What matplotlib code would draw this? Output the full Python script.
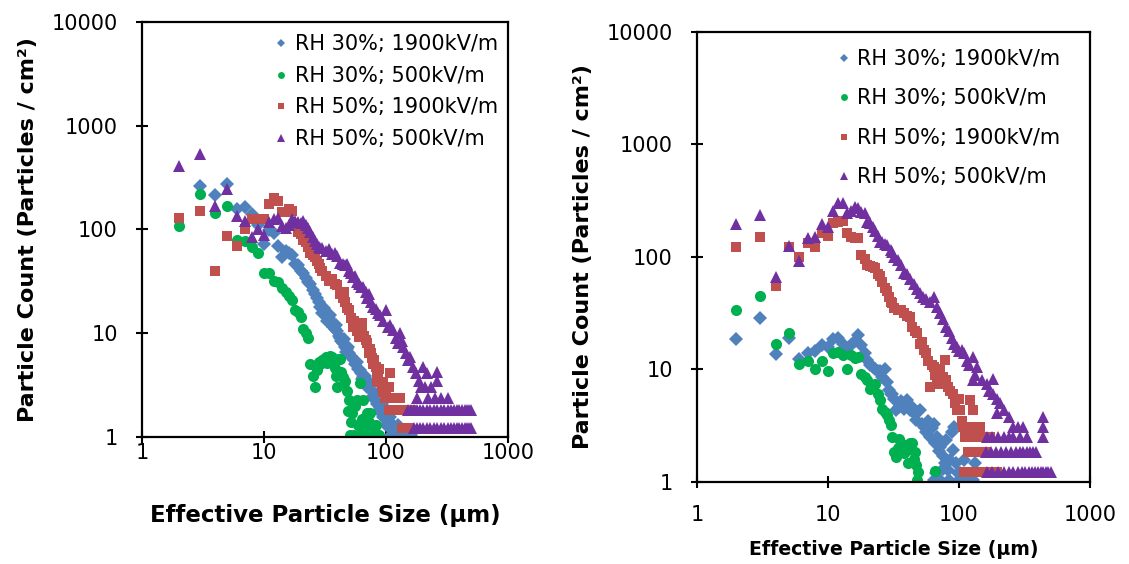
import matplotlib
matplotlib.use("Agg")
import matplotlib.pyplot as plt
from matplotlib.ticker import FixedLocator, FixedFormatter, NullLocator

# ---------------- data ----------------
series_labels = ["RH 30%; 1900kV/m", "RH 30%; 500kV/m", "RH 50%; 1900kV/m", "RH 50%; 500kV/m"]
tick_values = [1, 10, 100, 1000, 10000]
tick_labels = ["1", "10", "100", "1000", "10000"]

# ----- Left panel -----
L_blue_x = [3, 4, 5, 6, 7, 8, 9, 10, 11, 12, 13, 14, 15, 16, 17, 18, 19, 20, 21, 22, 23, 24, 25, 26, 27, 28, 29, 30,
            31, 32, 33, 34, 35, 36, 37, 38, 39, 40, 41, 42, 43, 44, 45, 46, 47, 48, 49, 50, 52, 53, 55, 56, 58, 59,
            61, 62, 64, 65, 67, 68, 70, 72, 74, 76, 78, 80, 82, 85, 87, 90, 92, 95, 97, 100, 102, 105, 108, 110,
            115, 120, 125, 130, 140, 150, 160]
L_blue_y = [265, 213, 276, 159, 163, 142, 110, 73, 98, 92, 70, 54, 62, 60, 57, 47, 45, 40, 38, 34, 31, 30, 26, 24, 22,
            20, 18, 15.6, 17.5, 14.5, 13, 14, 15, 12.5, 11.5, 11, 12, 10.5, 9.5, 9, 8.5, 8, 8.8, 7.3, 6.6, 7, 7.4,
            6.4, 6, 5.8, 5.5, 5.1, 5.3, 4.5, 4.4, 4.1, 3.6, 3.8, 3.9, 3.4, 3.0, 3.1, 3.3, 2.8, 2.5, 2.3, 2.6, 2.1,
            1.8, 1.9, 2.1, 1.55, 1.8, 1.3, 1.5, 1.25, 1.55, 1.05, 1.3, 1.05, 1.3, 1.05, 1.05, 1.05, 1.05]

L_green_x = [2, 3, 4, 5, 6, 7, 8, 9, 10, 11, 12, 13, 14, 15, 16, 17, 18, 19, 20, 21, 22, 23, 24, 25, 26, 27, 28, 29,
             30, 31, 32, 33, 34, 35, 36, 37, 38, 39, 40, 41, 42, 43, 44, 45, 46, 48, 49, 50, 51, 52, 53, 55, 56, 58,
             59, 60, 61, 63, 65, 66, 68, 70, 72, 74, 75, 77, 78, 80, 82, 85, 88]
L_green_y = [109, 220, 143, 170, 80, 78, 68, 60, 38, 38, 32, 31, 27, 25, 23, 20.8, 16.6, 16, 14.3, 11, 10, 9, 5.1,
             3.9, 3.0, 4.4, 5.3, 5.0, 5.5, 5.7, 5.9, 5.2, 5.8, 6.0, 5.9, 5.6, 4.6, 3.9, 3.0, 5.7, 5.7, 4.2, 3.8, 3.3,
             3.5, 2.8, 1.8, 2.27, 1.05, 1.4, 1.7, 1.05, 2.0, 2.27, 1.3, 1.05, 3.3, 1.5, 2.27, 1.25, 1.05, 1.7, 1.4,
             1.7, 1.05, 1.25, 1.25, 1.05, 1.3, 1.05, 1.05]

L_red_x = [2, 3, 4, 5, 6, 7, 8, 9, 10, 11, 12, 13, 14, 15, 16, 17, 18, 19, 20, 21, 22, 23, 24, 25, 26, 27, 28, 29, 30,
           32, 34, 36, 38, 40, 42, 44, 46, 48, 50, 52, 54, 56, 58, 60, 62, 64, 66, 68, 70, 72, 74, 76, 78, 80, 82,
           84, 86, 88, 90, 92, 95, 98, 100, 103, 106, 108, 110, 115, 120, 125, 130, 135, 140, 145, 150, 155, 160,
           45, 55, 63, 75, 85, 95, 105]
L_red_y = [130, 150, 39.5, 86, 70, 100, 125, 127, 125, 178, 200, 190, 146, 146, 156, 150, 110, 95, 91, 80, 76, 68, 60,
           57, 54, 50, 46, 43, 40, 36, 32, 33, 30, 29, 24, 22, 20, 17.5, 16.6, 14, 11.4, 12, 10.5, 9.1, 10, 12.5,
           9.5, 8.6, 8.0, 6.4, 7.0, 5.8, 5.0, 5.5, 4.7, 4.2, 3.8, 4.5, 3.4, 3.0, 3.4, 2.4, 2.65, 2.4, 3.0, 4.1, 2.4,
           1.83, 2.4, 1.83, 2.4, 1.22, 1.83, 1.22, 1.83, 1.22, 1.83,
           25, 13, 11, 6.5, 3.5, 2.7, 1.83]

L_purple_x = [2, 3, 4, 5, 6, 7, 8, 9, 10, 11, 12, 13, 14, 15, 16, 17, 18, 19, 20, 21, 22, 23, 24, 25, 26, 27, 28, 29,
              30, 32, 34, 36, 38, 40, 42, 44, 46, 48, 50, 52, 54, 56, 58, 60, 62, 65, 68, 70, 72, 75, 78, 82, 86, 90,
              95, 100, 103, 108, 114, 120, 125, 130, 135, 138, 145, 150, 157, 166, 175, 178, 185, 192, 201, 210, 216,
              220, 235, 250, 260, 262, 280, 322,
              150, 160, 170, 180, 190, 200, 215, 230, 245, 260, 280, 300, 320, 340, 360, 380, 400, 420, 440, 460, 480,
              500,
              170, 180, 190, 200, 215, 230, 245, 260, 280, 300, 320, 340, 360, 380, 400, 420, 440, 460, 480, 500]
L_purple_y = [412, 537, 170, 247, 136, 122, 84, 102, 88, 117, 125, 130, 109, 104, 110, 127, 120, 117, 115, 122, 110,
              104, 95, 84, 78, 73, 68, 66, 67, 62, 65, 58, 60, 55, 48, 47, 45, 47, 40, 38, 34.5, 36, 31, 30, 28, 28,
              25, 22, 24, 20, 17.8, 17, 15.6, 15, 13, 16.6, 11.4, 12, 10.7, 9, 8, 10, 8.5, 7.3, 6.5, 5.5, 5.9, 4.7,
              4.1, 2.4, 3.5, 3.0, 4.7, 3.0, 4.1, 2.4, 3.0, 2.4, 4.2, 3.5, 2.4, 2.4,
              1.83, 1.83, 1.83, 1.83, 1.83, 1.83, 1.83, 1.83, 1.83, 1.83, 1.83, 1.83, 1.83, 1.83, 1.83, 1.83, 1.83,
              1.83, 1.83, 1.83, 1.83, 1.83,
              1.22, 1.22, 1.22, 1.22, 1.22, 1.22, 1.22, 1.22, 1.22, 1.22, 1.22, 1.22, 1.22, 1.22, 1.22, 1.22, 1.22,
              1.22, 1.22, 1.22]

# ----- Right panel -----
R_blue_x = [2, 3, 4, 5, 6, 7, 8, 9, 10, 11, 12, 13, 14, 15, 16, 17, 18, 19, 20, 21, 22, 23, 24, 25, 26, 27, 28, 29,
            30, 31, 32, 33, 35, 36, 38, 40, 42, 44, 46, 47, 48, 50, 52, 54, 56, 58, 60, 62, 64, 66, 68, 70, 72, 75,
            78, 80, 82, 85, 88, 90, 92, 95, 98, 100, 102, 106, 110, 114, 120, 128, 133, 64, 67, 72, 76, 84]
R_blue_y = [18.5, 28.8, 13.7, 19.2, 12.5, 14.1, 14.5, 16.5, 16, 18.5, 19, 17, 15.4, 16.5, 18, 20.3, 16.5, 14, 12.1,
            11, 10.6, 10, 9.6, 9.6, 8.5, 10, 7.8, 6.6, 6.1, 6.1, 5.5, 4.4, 4.67, 5.2, 4.5, 5.35, 4.4, 4.67, 4.0,
            3.55, 4.2, 4.4, 3.3, 3.1, 2.8, 3.5, 2.5, 3.0, 3.3, 2.2, 2.53, 1.9, 2.06, 1.7, 1.47, 2.36, 1.28, 1.57,
            2.8, 1.93, 3.1, 1.47, 1.2, 1.04, 1.2, 1.04, 1.57, 1.04, 1.04, 1.04, 1.47, 1.04, 1.2, 1.04, 1.3, 1.04]

R_green_x = [2, 3, 4, 5, 6, 7, 8, 9, 10, 11, 12, 13, 14, 15, 16, 17, 18, 19, 20, 21, 22, 23, 24, 25, 26, 27, 28, 29,
             30, 31, 32, 33, 34, 35, 36, 38, 40, 41, 42, 44, 45, 46, 47, 48, 49, 66]
R_green_y = [33.8, 45, 16.9, 21.3, 11.1, 11.8, 10, 12, 9.6, 13.9, 14.4, 13.4, 10, 13.5, 12.6, 13, 9.2, 8.5, 8.05, 6.7,
             7.0, 7.5, 6.0, 5.35, 4.5, 4.2, 3.94, 3.55, 3.2, 2.53, 1.86, 1.68, 2.0, 2.4, 2.2, 1.8, 1.93, 1.47, 2.2,
             2.2, 1.6, 1.86, 1.42, 1.04, 1.23, 1.26]

R_red_x = [2, 3, 4, 5, 6, 7, 8, 9, 10, 11, 12, 13, 14, 15, 16, 17, 18, 19, 20, 21, 22, 23, 24, 25, 26, 27, 28, 29,
           30, 31, 32, 34, 36, 38, 40, 42, 44, 46, 48, 50, 52, 54, 56, 58, 60, 62, 64, 66, 68, 70, 72, 75, 78, 80,
           83, 86, 90, 93, 96, 100, 102, 105, 108, 112, 115, 118, 121, 125, 128, 132, 136, 140, 144, 150, 155, 160,
           165, 172, 180, 190, 195, 110, 120, 130, 145]
R_red_y = [123, 152, 55, 123, 99, 133, 123, 164, 154, 200, 206, 210, 163, 150, 146, 146, 104, 95, 85, 84, 82, 80, 70,
           68, 60, 53, 50, 44, 40, 38.7, 35, 34, 33.8, 32, 30, 29.5, 24, 22, 21, 17, 17.5, 15, 13.9, 12, 7.0, 11,
           10.6, 9, 8.5, 7.5, 10, 8.5, 12.1, 8.05, 7, 6.5, 6.1, 5.0, 4.4, 5.5, 4.4, 3.5, 3.1, 2.5, 3.1, 1.86, 5.35,
           2.5, 4.4, 1.86, 3.1, 2.5, 3.1, 1.23, 2.5, 1.86, 1.23, 2.5, 1.23, 1.23, 1.23, 1.23, 1.86, 1.23, 1.86]

R_purple_x = [2, 3, 4, 5, 6, 7, 8, 9, 10, 11, 12, 13, 14, 15, 16, 17, 18, 19, 20, 21, 22, 23, 24, 25, 26, 27, 28, 30,
              31, 32, 34, 36, 38, 40, 42, 45, 48, 50, 53, 56, 60, 64, 68, 72, 76, 80, 84, 88, 92, 96, 100, 105, 110,
              115, 120, 128, 133, 137, 128, 150, 163, 170, 183, 183, 195, 205, 194, 220, 240, 258, 280, 310,
              437, 437, 437,
              163, 180, 200, 220, 240, 260, 290, 330,
              160, 175, 190, 210, 230, 250, 270, 290, 310, 330, 350, 370, 390,
              163, 180, 200, 220, 240, 260, 280, 300, 320, 340, 360, 380, 400, 420, 440, 460, 480, 500]
R_purple_y = [195, 236, 67, 125, 92, 147, 152, 195, 183, 256, 300, 304, 244, 254, 280, 270, 250, 244, 206, 200, 186,
              170, 155, 137, 137, 130, 128, 115, 111, 100, 94, 85, 72, 70, 64, 58, 52, 48, 44, 42, 40, 44, 36, 31.7,
              28, 24, 22, 19, 17, 16, 14.5, 15, 13.9, 12, 11, 13, 9, 10.6, 8.05, 8, 7.5, 6.5, 8.3, 6.1, 5.5, 5.0,
              4.1, 4.4, 3.8, 3.1, 3.1, 3.1,
              3.8, 3.1, 2.5,
              2.5, 2.5, 2.5, 2.5, 2.5, 2.5, 2.5, 2.5,
              1.86, 1.86, 1.86, 1.86, 1.86, 1.86, 1.86, 1.86, 1.86, 1.86, 1.86, 1.86, 1.86,
              1.23, 1.23, 1.23, 1.23, 1.23, 1.23, 1.23, 1.23, 1.23, 1.23, 1.23, 1.23, 1.23, 1.23, 1.23, 1.23, 1.23,
              1.23]

# ---------------- style ----------------
colors = ["#4F81BD", "#00B050", "#C0504D", "#7030A0"]
markers = ["D", "o", "s", "^"]
msizes = [6.8, 8, 7.5, 8.5]

plt.rcParams["font.family"] = ["DejaVu Sans"]

fig = plt.figure(figsize=(11.29, 5.64), dpi=100)
axL = fig.add_axes([0.1258, 0.2252, 0.3242, 0.7358])
axR = fig.add_axes([0.6174, 0.1454, 0.3481, 0.7979])

left_data = [(L_blue_x, L_blue_y), (L_green_x, L_green_y), (L_red_x, L_red_y), (L_purple_x, L_purple_y)]
right_data = [(R_blue_x, R_blue_y), (R_green_x, R_green_y), (R_red_x, R_red_y), (R_purple_x, R_purple_y)]


def draw(ax, data, xlabel_size, xlabel_pad, xtick_pad, legend_spacing, legend_anchor):
    for (x, y), c, m, ms, lab in zip(data, colors, markers, msizes, series_labels):
        ax.plot(x, y, linestyle="none", marker=m, color=c, markersize=ms,
                markeredgewidth=0, label=lab)
    ax.set_xscale("log")
    ax.set_yscale("log")
    ax.set_xlim(1, 1000)
    ax.set_ylim(1, 10000)
    ax.xaxis.set_major_locator(FixedLocator(tick_values[:4]))
    ax.xaxis.set_major_formatter(FixedFormatter(tick_labels[:4]))
    ax.yaxis.set_major_locator(FixedLocator(tick_values))
    ax.yaxis.set_major_formatter(FixedFormatter(tick_labels))
    ax.xaxis.set_minor_locator(NullLocator())
    ax.yaxis.set_minor_locator(NullLocator())
    ax.tick_params(axis="both", which="major", direction="inout", length=9, width=1.5,
                   labelsize=15, colors="black")
    ax.tick_params(axis="y", pad=13)
    ax.tick_params(axis="x", pad=xtick_pad)
    for s in ax.spines.values():
        s.set_linewidth(1.6)
        s.set_color("black")
    ax.set_ylabel("Particle Count (Particles / cm²)", fontsize=16, fontweight="bold", labelpad=10)
    ax.set_xlabel("Effective Particle Size (µm)", fontsize=xlabel_size, fontweight="bold", labelpad=xlabel_pad)
    ax.legend(loc="upper left", bbox_to_anchor=legend_anchor, frameon=False, fontsize=15,
              handlelength=0.7, handletextpad=0.3, borderpad=0, borderaxespad=0,
              labelspacing=legend_spacing, markerscale=0.62)


draw(axL, left_data, 16.5, 29, 0, 0.55, (0.36, 0.97))
draw(axR, right_data, 13.6, 11, 12, 0.93, (0.355, 0.962))

fig.savefig("out.png", dpi=100)
